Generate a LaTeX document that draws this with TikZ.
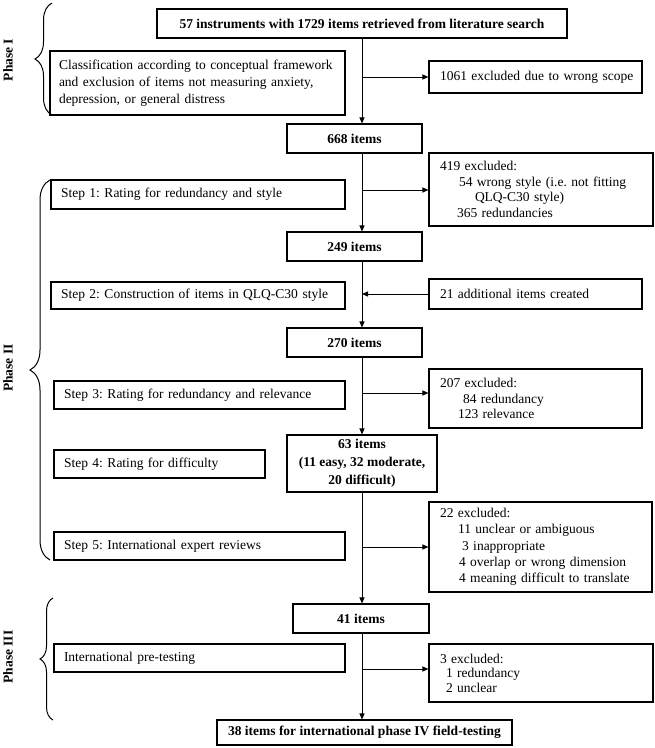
\documentclass[tikz,border=0pt]{standalone}
\usepackage{fontspec}
\setmainfont{Liberation Serif}
\usetikzlibrary{arrows.meta,decorations.pathreplacing}
\frenchspacing
\begin{document}
\begin{tikzpicture}[x=1pt,y=-1pt,
  every node/.style={font=\fontsize{13.5}{16}\selectfont},
  bx/.style={draw, line width=1.1pt, inner xsep=0pt, inner ysep=0pt, align=center},
  lbx/.style={draw, line width=1.1pt, inner ysep=0pt, align=left},
  arr/.style={line width=1pt, -{Triangle[length=6pt,width=5pt]}},
  brc/.style={line width=1pt, decorate, decoration={brace, aspect=0.5}},
  phase/.style={rotate=90, font=\fontsize{13.5}{16}\selectfont\bfseries}]
\useasboundingbox (0,0) rectangle (655,748);
% main column
\node[bx, minimum width=410pt, minimum height=29pt, font=\fontsize{13.5}{16}\selectfont\bfseries] (A) at (362,23.5) {57 instruments with 1729 items retrieved from literature search};
\node[lbx, inner xsep=9pt, text width=277pt, minimum height=64pt, font=\fontsize{13.5}{17}\selectfont] (B) at (197.5,83) {\mbox{Classification according to conceptual framework}\\\mbox{and exclusion of items not measuring anxiety,}\\\mbox{depression, or general distress}};
\node[lbx, inner xsep=11pt, text width=191pt, minimum height=32pt] (C) at (535.5,77) {\mbox{1061 excluded due to wrong scope}};
\node[bx, minimum width=135pt, minimum height=29pt, font=\fontsize{13.5}{16}\selectfont\bfseries] (N668) at (354.5,138.5) {668 items};
\node[lbx, inner xsep=11pt, text width=202pt, minimum height=73pt, font=\fontsize{13.5}{15.5}\selectfont] (E419) at (541,189.5) {419 excluded:\\\mbox{\hspace*{19pt}54 wrong style (i.e. not fitting}\\\mbox{\hspace*{35pt}QLQ-C30 style)}\\\mbox{\hspace*{17pt}365 redundancies}};
\node[lbx, inner xsep=10pt, text width=274pt, minimum height=29pt] (S1) at (198,194.5) {\mbox{Step 1: Rating for redundancy and style}};
\node[bx, minimum width=135pt, minimum height=29pt, font=\fontsize{13.5}{16}\selectfont\bfseries] (N249) at (354.5,246.5) {249 items};
\node[lbx, inner xsep=10pt, text width=274pt, minimum height=27pt] (S2) at (198,295.5) {\mbox{Step 2: Construction of items in QLQ-C30 style}};
\node[lbx, inner xsep=11pt, text width=191pt, minimum height=30pt] (A21) at (535.5,294) {\mbox{21 additional items created}};
\node[bx, minimum width=135pt, minimum height=29pt, font=\fontsize{13.5}{16}\selectfont\bfseries] (N270) at (354.5,342.5) {270 items};
\node[lbx, inner xsep=11pt, text width=191pt, minimum height=59pt, font=\fontsize{13.5}{15.5}\selectfont] (E207) at (535.5,398.5) {207 excluded:\\\mbox{\hspace*{23pt}84 redundancy}\\\mbox{\hspace*{18pt}123 relevance}};
\node[lbx, inner xsep=10pt, text width=271pt, minimum height=28pt] (S3) at (199.5,395) {\mbox{Step 3: Rating for redundancy and relevance}};
\node[bx, minimum width=150pt, minimum height=57pt, font=\fontsize{13.5}{18}\selectfont\bfseries] (N63) at (362,463.5) {63 items\\(11 easy, 32 moderate,\\20 difficult)};
\node[lbx, inner xsep=10pt, text width=191pt, minimum height=28pt] (S4) at (159.5,464) {\mbox{Step 4: Rating for difficulty}};
\node[lbx, inner xsep=11pt, text width=201pt, minimum height=90pt, font=\fontsize{13.5}{16.3}\selectfont] (E22) at (540.5,547) {22 excluded:\\\mbox{\hspace*{18pt}11 unclear or ambiguous}\\\mbox{\hspace*{22pt}3 inappropriate}\\\mbox{\hspace*{19pt}4 overlap or wrong dimension}\\\mbox{\hspace*{19pt}4 meaning difficult to translate}};
\node[lbx, inner xsep=10pt, text width=271pt, minimum height=28pt] (S5) at (199.5,546) {\mbox{Step 5: International expert reviews}};
\node[bx, minimum width=136pt, minimum height=29pt, font=\fontsize{13.5}{16}\selectfont\bfseries] (N41) at (361,618.5) {41 items};
\node[lbx, inner xsep=10pt, text width=271pt, minimum height=28pt] (P3) at (199.5,658) {\mbox{International pre-testing}};
\node[lbx, inner xsep=11pt, text width=202pt, minimum height=58pt, font=\fontsize{13.5}{14.5}\selectfont] (E3) at (541,673) {3 excluded:\\\mbox{\hspace*{6pt}1 redundancy}\\\mbox{\hspace*{6pt}2 unclear}};
\node[bx, minimum width=295pt, minimum height=25pt, font=\fontsize{13.5}{16}\selectfont\bfseries] (N38) at (364.5,732.5) {38 items for international phase IV field-testing};
% trunk coordinates
\coordinate (tr) at (362,0);
\coordinate (j1) at (362,77);
\coordinate (j2) at (362,190);
\coordinate (j3) at (362,393);
\coordinate (j4) at (362,547);
\coordinate (j5) at (362,669);
% connectors
\draw[arr] (A.south) -- (tr |- N668.north);
\draw[arr] (j1) -- (C.west);
\draw[arr] (tr |- N668.south) -- (tr |- N249.north);
\draw[arr] (j2) -- (E419.west |- j2);
\draw[arr] (tr |- N249.south) -- (tr |- N270.north);
\draw[arr] (A21.west) -- (tr |- A21.west);
\draw[arr] (tr |- N270.south) -- (N63.north);
\draw[arr] (j3) -- (E207.west |- j3);
\draw[arr] (N63.south) -- (tr |- N41.north);
\draw[arr] (j4) -- (E22.west |- j4);
\draw[arr] (tr |- N41.south) -- (tr |- N38.north);
\draw[arr] (j5) -- (E3.west |- j5);
% braces and phase labels
\draw[brc, decoration={amplitude=17pt}] (52,115) -- (52,3);
\draw[brc, decoration={amplitude=20pt}] (50,560) -- (50,180);
\draw[brc, decoration={amplitude=13pt}] (53,720) -- (53,598);
\node[phase] (ph1) at (8,60) {Phase I};
\node[phase] (ph2) at (8,368) {Phase II};
\node[phase] (ph3) at (8,657) {Phase III};
\end{tikzpicture}
\end{document}
